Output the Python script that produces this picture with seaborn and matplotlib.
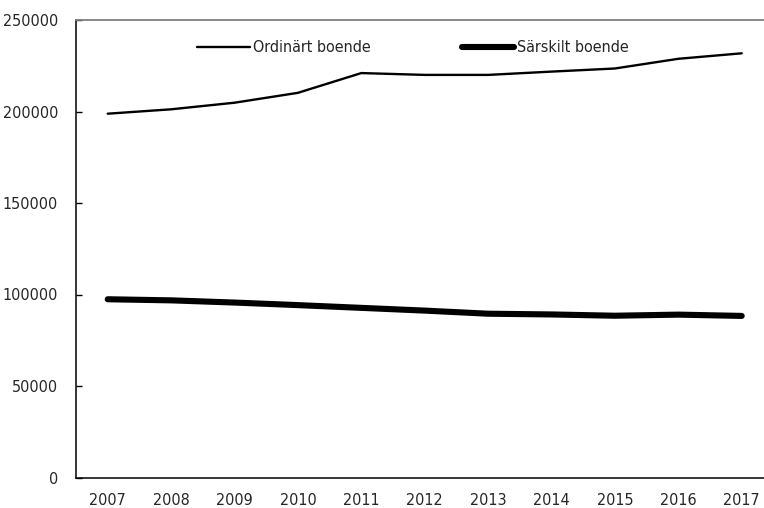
import numpy as np
import pandas as pd
import matplotlib
matplotlib.use("Agg")
import matplotlib.pyplot as plt
import seaborn as sns
from matplotlib.ticker import FixedLocator
from matplotlib.lines import Line2D

years = ["2007", "2008", "2009", "2010", "2011", "2012", "2013", "2014", "2015", "2016", "2017"]
ordinart = [198800, 201200, 204800, 210200, 221000, 220000, 220000, 221800, 223500, 228800, 231800]
sarskilt = [97400, 96800, 95600, 94200, 92700, 91200, 89500, 89100, 88400, 89000, 88300]
series_names = ["Ordinärt boende", "Särskilt boende"]

df = pd.DataFrame({"year": years * 2,
                   "value": ordinart + sarskilt,
                   "serie": [series_names[0]] * len(years) + [series_names[1]] * len(years)})

sns.set_style("white")
plt.rcParams["font.family"] = ["DejaVu Sans"]
plt.rcParams["font.stretch"] = "condensed"

fig = plt.figure(figsize=(7.64, 5.08), dpi=100)
ax = fig.add_axes([76 / 764, 1 - 477.5 / 508, 697.4 / 764, 457.5 / 508])

sns.lineplot(data=df, x="year", y="value", hue="serie", size="serie",
             sizes={series_names[0]: 1.7, series_names[1]: 4.4},
             palette={series_names[0]: "black", series_names[1]: "black"},
             ax=ax, legend=False)
for ln in ax.lines:
    ln.set_solid_capstyle("round")

ax.set_xlim(-0.5, len(years) - 0.5)
ax.set_ylim(0, 250000)
ax.set_yticks(np.arange(0, 250001, 50000))
ax.set_xlabel("")
ax.set_ylabel("")

# year labels in the middle, tick marks between categories
ax.set_xticks(range(len(years)))
ax.set_xticklabels(years)
ax.xaxis.set_minor_locator(FixedLocator(np.arange(0.5, len(years) - 0.5, 1)))
ax.tick_params(axis="x", which="major", length=0, pad=11, labelsize=11.5)
ax.tick_params(axis="x", which="minor", direction="inout", length=8.6, width=1, color="black")
ax.tick_params(axis="y", direction="in", length=4.5, width=1, color="black", pad=13, labelsize=11.5,
               left=True)

for side in ["left", "bottom"]:
    ax.spines[side].set_color("black")
    ax.spines[side].set_linewidth(1.1)
ax.spines["right"].set_visible(False)
ax.spines["top"].set_color("#808080")
ax.spines["top"].set_linewidth(1.3)

handles = [Line2D([], [], color="black", lw=1.7),
           Line2D([], [], color="black", lw=4.4, solid_capstyle="round")]
fig.legend(handles, series_names, loc="center", bbox_to_anchor=(413 / 764, 1 - 48 / 508),
           ncol=2, frameon=False, fontsize=11.5, handlelength=3.3, handletextpad=0.2,
           columnspacing=5.7)

fig.savefig("out.png", dpi=100)
